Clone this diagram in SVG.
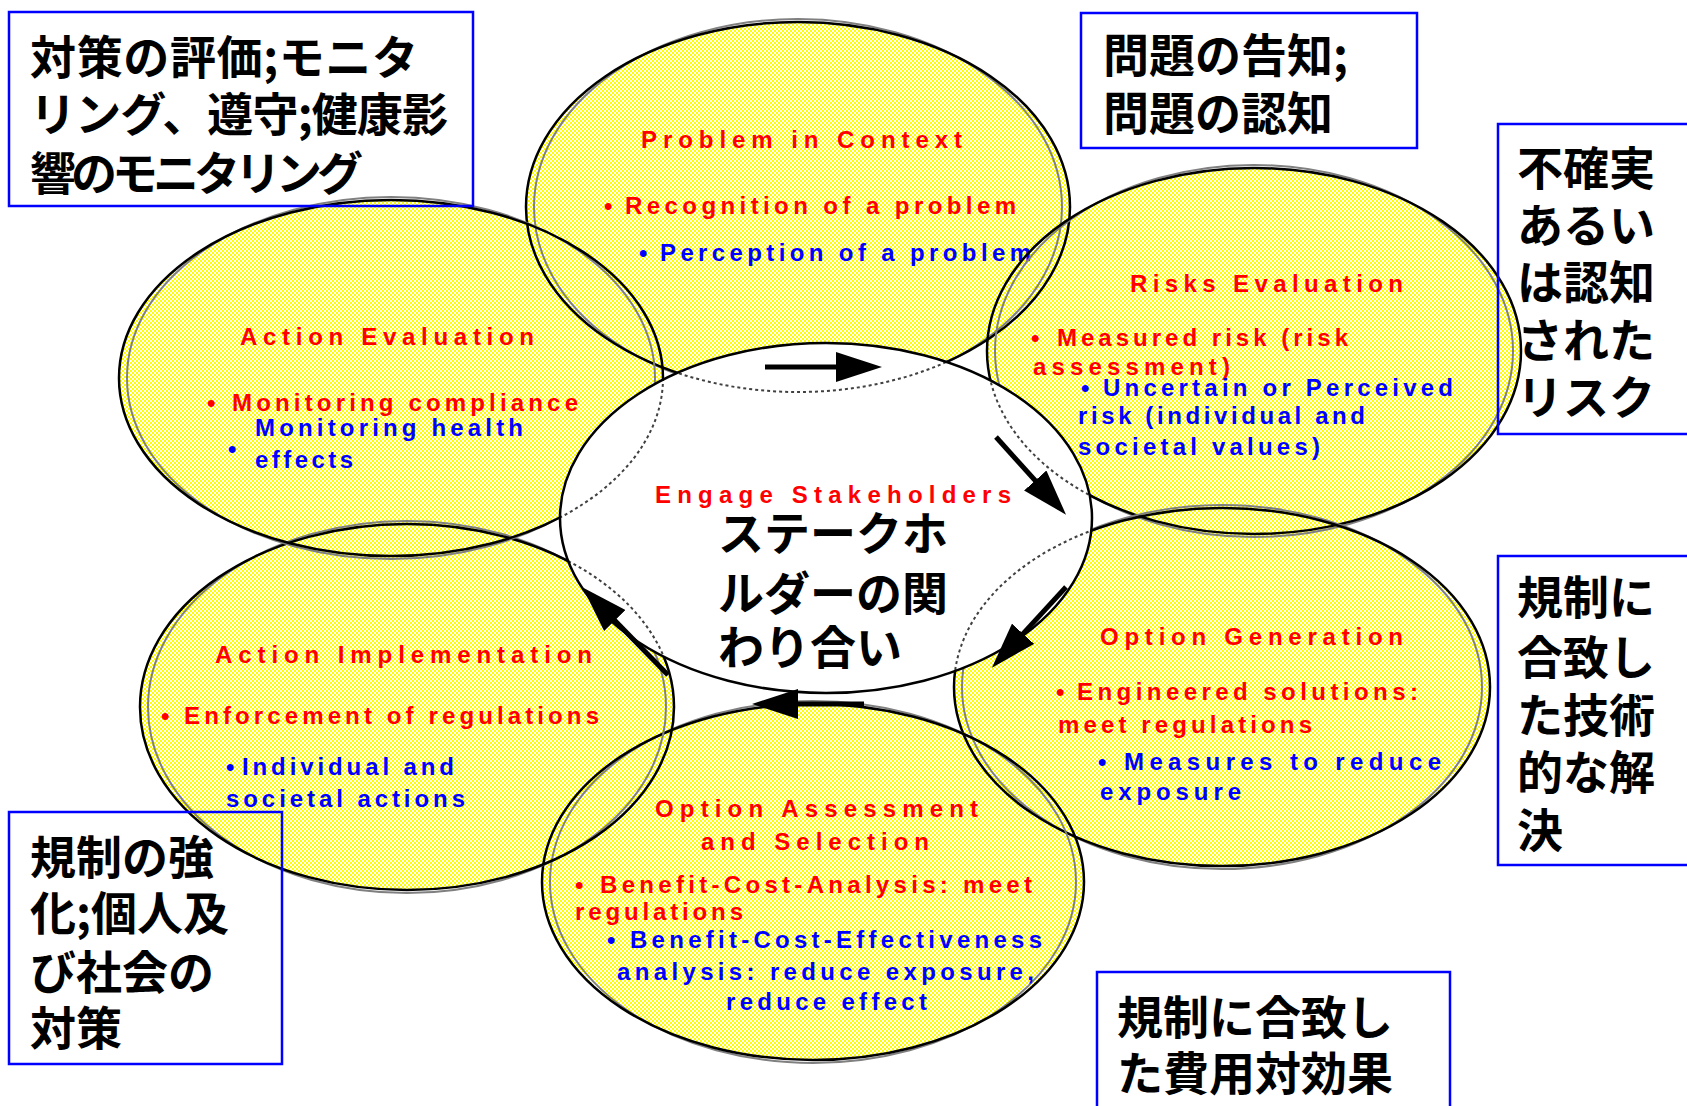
<svg xmlns="http://www.w3.org/2000/svg" width="1687" height="1106" viewBox="0 0 1687 1106">
<defs>
  <pattern id="dither" width="4" height="4" patternUnits="userSpaceOnUse">
    <rect width="4" height="4" fill="#ffffff"/>
    <rect width="2" height="2" fill="#ffff00"/>
    <rect x="2" y="2" width="2" height="2" fill="#ffff00"/>
  </pattern>
  <clipPath id="centerClip"><ellipse cx="826" cy="518" rx="266" ry="175"/></clipPath>
  <marker id="ah" markerUnits="userSpaceOnUse" markerWidth="46" markerHeight="30" refX="37" refY="15" orient="auto">
    <path d="M0,0 L46,15 L0,30 z" fill="#000"/>
  </marker>
  <style>
    .fill { fill: url(#dither); stroke: none; }
    .outline { fill: none; stroke: #000; stroke-width: 2.5; }
    .shadow { fill: none; stroke: #808080; stroke-width: 2; }
    .thru { fill: none; stroke: #404040; stroke-width: 2; stroke-dasharray: 3 3; }
    .box { fill: none; stroke: #0000ff; stroke-width: 2.5; }
    .jp { font-family: "Noto Sans CJK JP", sans-serif; font-size: 46px; font-weight: 700; fill: #000; }
    .en { font-family: "Liberation Sans", Arial, sans-serif; font-size: 24px; font-weight: 700; }
    .red { fill: #ff0000; }
    .blue { fill: #0000ff; }
    .conn { stroke: #000; stroke-width: 5; fill: none; marker-end: url(#ah); }
  </style>
</defs>
<rect width="1687" height="1106" fill="#ffffff"/>

<g id="petal-fills">
  <ellipse class="fill" cx="798" cy="207" rx="272" ry="185"/>
  <ellipse class="fill" cx="1254" cy="351" rx="267" ry="183"/>
  <ellipse class="fill" cx="1222" cy="687" rx="268" ry="179"/>
  <ellipse class="fill" cx="813" cy="882" rx="271" ry="178"/>
  <ellipse class="fill" cx="407" cy="707" rx="267" ry="183"/>
  <ellipse class="fill" cx="391" cy="378" rx="272" ry="178"/>
</g>

<g id="node-problem">
  <ellipse class="shadow" cx="798" cy="207" rx="264" ry="188"/>
  <ellipse class="outline" cx="798" cy="207" rx="272" ry="185"/>
  <text class="en red" x="641" y="148" textLength="321">Problem in Context</text>
  <text class="en red" x="604" y="214">•</text>
  <text class="en red" x="625" y="214" textLength="391">Recognition of a problem</text>
  <text class="en blue" x="639" y="261">•</text>
  <text class="en blue" x="660" y="261" textLength="371">Perception of a problem</text>
</g>

<g id="node-risks">
  <ellipse class="shadow" cx="1254" cy="351" rx="259" ry="186"/>
  <ellipse class="outline" cx="1254" cy="351" rx="267" ry="183"/>
  <text class="en red" x="1130" y="292" textLength="273">Risks Evaluation</text>
  <text class="en red" x="1031" y="346">•</text>
  <text class="en red" x="1057" y="346" textLength="291">Measured risk (risk</text>
  <text class="en red" x="1033" y="375" textLength="197">assessment)</text>
  <text class="en blue" x="1081" y="396">•</text>
  <text class="en blue" x="1103" y="396" textLength="350">Uncertain or Perceived</text>
  <text class="en blue" x="1078" y="424" textLength="287">risk (individual and</text>
  <text class="en blue" x="1078" y="455" textLength="242">societal values)</text>
</g>

<g id="node-option-generation">
  <ellipse class="shadow" cx="1222" cy="687" rx="260" ry="182"/>
  <ellipse class="outline" cx="1222" cy="687" rx="268" ry="179"/>
  <text class="en red" x="1100" y="645" textLength="303">Option Generation</text>
  <text class="en red" x="1056" y="700">•</text>
  <text class="en red" x="1077" y="700" textLength="341">Engineered solutions:</text>
  <text class="en red" x="1058" y="733" textLength="254">meet regulations</text>
  <text class="en blue" x="1098" y="770">•</text>
  <text class="en blue" x="1124" y="770" textLength="317">Measures to reduce</text>
  <text class="en blue" x="1100" y="800" textLength="141">exposure</text>
</g>

<g id="node-option-assessment">
  <ellipse class="shadow" cx="813" cy="882" rx="263" ry="181"/>
  <ellipse class="outline" cx="813" cy="882" rx="271" ry="178"/>
  <text class="en red" x="655" y="817" textLength="323">Option Assessment</text>
  <text class="en red" x="701" y="850" textLength="228">and Selection</text>
  <text class="en red" x="575" y="893">•</text>
  <text class="en red" x="600" y="893" textLength="432">Benefit-Cost-Analysis: meet</text>
  <text class="en red" x="575" y="920" textLength="168">regulations</text>
  <text class="en blue" x="607" y="948">•</text>
  <text class="en blue" x="630" y="948" textLength="412">Benefit-Cost-Effectiveness</text>
  <text class="en blue" x="617" y="980" textLength="417">analysis: reduce exposure,</text>
  <text class="en blue" x="726" y="1010" textLength="201">reduce effect</text>
</g>

<g id="node-action-implementation">
  <ellipse class="shadow" cx="407" cy="707" rx="259" ry="186"/>
  <ellipse class="outline" cx="407" cy="707" rx="267" ry="183"/>
  <text class="en red" x="215" y="663" textLength="377">Action Implementation</text>
  <text class="en red" x="161" y="724">•</text>
  <text class="en red" x="184" y="724" textLength="415">Enforcement of regulations</text>
  <text class="en blue" x="226" y="775">•</text>
  <text class="en blue" x="242" y="775" textLength="212">Individual and</text>
  <text class="en blue" x="226" y="807" textLength="239">societal actions</text>
</g>

<g id="node-action-evaluation">
  <ellipse class="shadow" cx="391" cy="378" rx="264" ry="181"/>
  <ellipse class="outline" cx="391" cy="378" rx="272" ry="178"/>
  <text class="en red" x="240" y="345" textLength="294">Action Evaluation</text>
  <text class="en red" x="207" y="411">•</text>
  <text class="en red" x="232" y="411" textLength="346">Monitoring compliance</text>
  <text class="en blue" x="255" y="436" textLength="268">Monitoring health</text>
  <text class="en blue" x="228" y="457">•</text>
  <text class="en blue" x="255" y="468" textLength="98">effects</text>
</g>

<g id="node-engage-stakeholders">
  <ellipse cx="826" cy="518" rx="266" ry="175" fill="#ffffff" stroke="none"/>
  <g clip-path="url(#centerClip)">
    <ellipse class="thru" cx="798" cy="207" rx="272" ry="185"/>
    <ellipse class="thru" cx="1254" cy="351" rx="267" ry="183"/>
    <ellipse class="thru" cx="1222" cy="687" rx="268" ry="179"/>
    <ellipse class="thru" cx="813" cy="882" rx="271" ry="178"/>
    <ellipse class="thru" cx="407" cy="707" rx="267" ry="183"/>
    <ellipse class="thru" cx="391" cy="378" rx="272" ry="178"/>
  </g>
  <ellipse class="outline" cx="826" cy="518" rx="266" ry="175"/>
  <text class="en red" x="655" y="503" textLength="356">Engage Stakeholders</text>
  <text class="jp" x="718" y="550">ステークホ</text>
  <text class="jp" x="718" y="610">ルダーの関</text>
  <text class="jp" x="718" y="664">わり合い</text>
</g>

<g id="connectors">
  <line class="conn" x1="765" y1="367" x2="873" y2="367"/>
  <line class="conn" x1="996" y1="437" x2="1060" y2="508"/>
  <line class="conn" x1="1066" y1="587" x2="998" y2="661"/>
  <line class="conn" x1="864" y1="704" x2="761" y2="704"/>
  <line class="conn" x1="668" y1="675" x2="589" y2="594"/>
</g>

<g id="note-action-evaluation">
  <rect class="box" x="9" y="12" width="464" height="194"/>
  <text class="jp" x="30" y="74" textLength="388">対策の評価;モニタ</text>
  <text class="jp" x="30" y="131" textLength="418">リング、遵守;健康影</text>
  <text class="jp" x="30" y="190" textLength="333">響のモニタリング</text>
</g>

<g id="note-problem">
  <rect class="box" x="1081" y="13" width="336" height="135"/>
  <text class="jp" x="1103" y="72">問題の告知;</text>
  <text class="jp" x="1103" y="130">問題の認知</text>
</g>

<g id="note-risks">
  <rect class="box" x="1498" y="124" width="220" height="310"/>
  <text class="jp" x="1517" y="185">不確実</text>
  <text class="jp" x="1517" y="242">あるい</text>
  <text class="jp" x="1517" y="299">は認知</text>
  <text class="jp" x="1517" y="357">された</text>
  <text class="jp" x="1517" y="414">リスク</text>
</g>

<g id="note-option-generation">
  <rect class="box" x="1498" y="556" width="220" height="309"/>
  <text class="jp" x="1517" y="614">規制に</text>
  <text class="jp" x="1517" y="674">合致し</text>
  <text class="jp" x="1517" y="732">た技術</text>
  <text class="jp" x="1517" y="789">的な解</text>
  <text class="jp" x="1517" y="847">決</text>
</g>

<g id="note-option-assessment">
  <rect class="box" x="1097" y="972" width="353" height="160"/>
  <text class="jp" x="1117" y="1034">規制に合致し</text>
  <text class="jp" x="1117" y="1090">た費用対効果</text>
</g>

<g id="note-action-implementation">
  <rect class="box" x="9" y="812" width="273" height="252"/>
  <text class="jp" x="30" y="874">規制の強</text>
  <text class="jp" x="30" y="930">化;個人及</text>
  <text class="jp" x="30" y="989">び社会の</text>
  <text class="jp" x="30" y="1045">対策</text>
</g>
</svg>
